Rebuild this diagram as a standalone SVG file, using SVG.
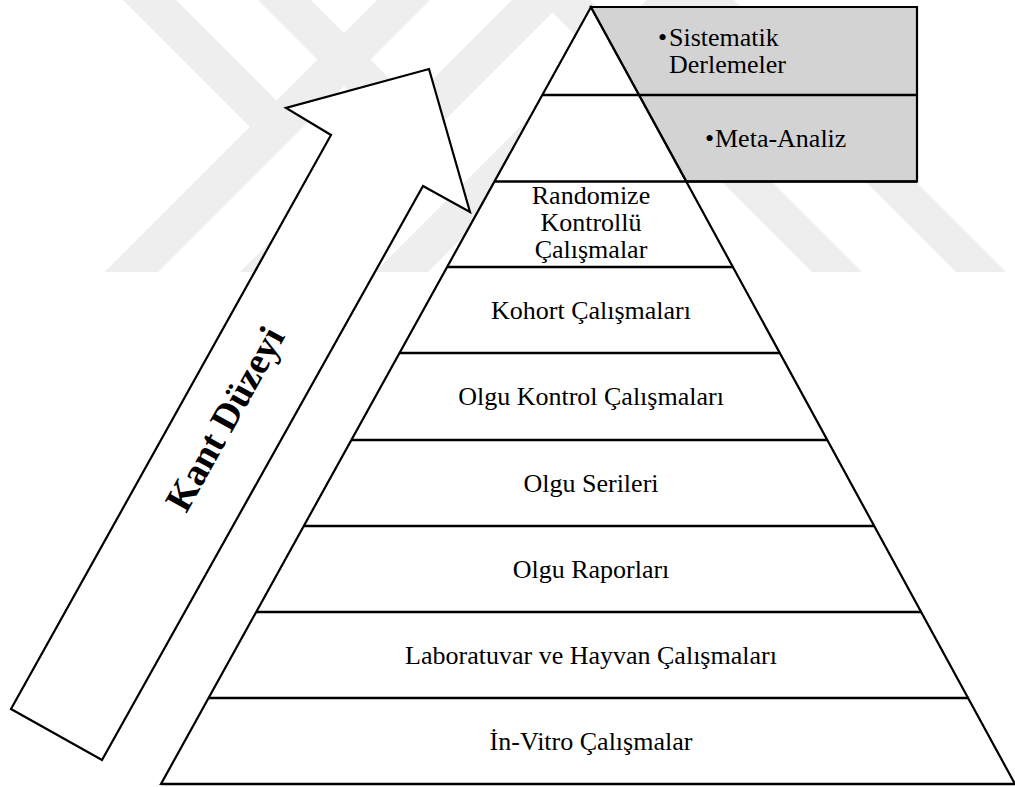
<svg xmlns="http://www.w3.org/2000/svg" width="1015" height="787" viewBox="0 0 1015 787">
  <style>
    .wm { fill: #eeeeee; stroke: none; }
    .shape { stroke: #000; stroke-width: 2.2; stroke-linejoin: miter; }
    .div { stroke: #000; stroke-width: 2.5; fill: none; }
    .lbl { font-family: "Liberation Serif", "Times New Roman", serif; font-size: 26px; fill: #000; }
    .mid { text-anchor: middle; }
    .big { font-family: "Liberation Serif", "Times New Roman", serif; font-size: 38px; font-weight: bold; fill: #000; }
  </style>
  <rect x="0" y="0" width="1015" height="787" fill="#ffffff"/>

  <g id="watermark">
    <polygon class="wm" points="123,0 176,0 303,127 158,272 105,272 250,127"/>
    <polygon class="wm" points="105,272 158,272 430,0 377,0"/>
    <polygon class="wm" points="258,0 311,0 438,127 385,127"/>
    <polygon class="wm" points="240,272 293,272 565,0 512,0"/>
    <polygon class="wm" points="375,272 428,272 700,0 647,0"/>
    <polygon class="wm" points="540,0 590,0 862,272 812,272"/>
    <polygon class="wm" points="684,0 734,0 1006,272 956,272"/>
  </g>

  <g id="arrow">
    <polygon class="shape" fill="#ffffff" points="11,709 331,135 286,108 429,69 470,212 423,186 102,760"/>
    <text class="big mid" transform="translate(236,425) rotate(-60.8)">Kant Düzeyi</text>
  </g>

  <g id="pyramid">
    <polygon class="shape" fill="#ffffff" points="591,7 161,784 1015,784"/>
  </g>

  <g id="top-box">
    <polygon class="shape" fill="#d3d3d3" stroke-width="2.6" points="591,7 917,7 917,181.5 686.5,181.5"/>
  </g>

  <g id="connectors">
    <line class="div" x1="542.3" y1="95" x2="917" y2="95"/>
    <line class="div" x1="494.4" y1="181.5" x2="917" y2="181.5"/>
    <line class="div" x1="447.1" y1="267" x2="733.2" y2="267"/>
    <line class="div" x1="399.5" y1="353" x2="780.2" y2="353"/>
    <line class="div" x1="351.4" y1="440" x2="827.8" y2="440"/>
    <line class="div" x1="303.8" y1="526" x2="874.8" y2="526"/>
    <line class="div" x1="256.2" y1="612" x2="921.8" y2="612"/>
    <line class="div" x1="208.6" y1="698" x2="968.9" y2="698"/>
    <line class="div" x1="161" y1="784" x2="1015" y2="784"/>
  </g>

  <g id="node-sistematik">
    <text class="lbl" x="658" y="46">•</text>
    <text class="lbl" x="669" y="46">Sistematik</text>
    <text class="lbl" x="669" y="73">Derlemeler</text>
  </g>
  <g id="node-meta">
    <text class="lbl" x="705" y="147">•</text>
    <text class="lbl" x="715" y="147">Meta-Analiz</text>
  </g>
  <g id="node-rkc">
    <text class="lbl mid" x="591" y="204">Randomize</text>
    <text class="lbl mid" x="591" y="231">Kontrollü</text>
    <text class="lbl mid" x="591" y="258">Çalışmalar</text>
  </g>
  <g id="node-kohort">
    <text class="lbl mid" x="591" y="319">Kohort Çalışmaları</text>
  </g>
  <g id="node-olgu-kontrol">
    <text class="lbl mid" x="591" y="405">Olgu Kontrol Çalışmaları</text>
  </g>
  <g id="node-olgu-serileri">
    <text class="lbl mid" x="591" y="492">Olgu Serileri</text>
  </g>
  <g id="node-olgu-raporlari">
    <text class="lbl mid" x="591" y="578">Olgu Raporları</text>
  </g>
  <g id="node-laboratuvar">
    <text class="lbl mid" x="591" y="664">Laboratuvar ve Hayvan Çalışmaları</text>
  </g>
  <g id="node-invitro">
    <text class="lbl mid" x="591" y="750">İn-Vitro Çalışmalar</text>
  </g>
</svg>
